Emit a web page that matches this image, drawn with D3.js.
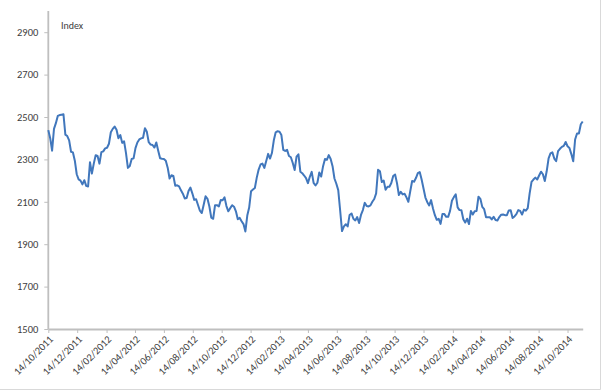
<!DOCTYPE html>
<html>
<head>
<meta charset="utf-8">
<script src="https://cdn.jsdelivr.net/npm/d3@7"></script>
<style>
  html, body { margin: 0; padding: 0; background: #fff; }
  svg { display: block; }
  text { font-family: Carlito, Lato, "Open Sans", sans-serif; fill: #404040; }
</style>
</head>
<body>
<svg id="chart" width="602" height="392"></svg>
<script>
// ---- data ----
const startDate = "14/10/2011";
const endDate = "15/11/2014";
const stepDays = 4; // sampling interval of the series (calendar days)
const indexValues = [
  2438,2400,2341,2444,2471,2505,2509,2511,2513,2417,2410,2390,2336,2333,2294,2230,2206,2200,2182,2202,
  2175,2172,2287,2233,2280,2320,2316,2280,2334,2338,2352,2355,2374,2428,2444,2455,2440,2400,2415,2378,
  2385,2330,2260,2269,2302,2305,2353,2380,2394,2399,2402,2447,2430,2381,2370,2368,2356,2380,2341,2305,
  2303,2302,2294,2261,2210,2225,2222,2176,2178,2173,2154,2138,2116,2118,2151,2167,2140,2109,2112,2085,
  2058,2047,2086,2126,2114,2078,2025,2020,2084,2084,2078,2108,2107,2121,2080,2055,2070,2084,2077,2055,
  2018,2024,2008,1995,1960,2035,2073,2150,2158,2165,2214,2252,2276,2280,2260,2292,2326,2304,2330,2390,
  2428,2433,2431,2415,2345,2340,2345,2316,2310,2283,2250,2313,2324,2242,2235,2224,2212,2188,2218,2241,
  2189,2177,2190,2238,2219,2268,2302,2298,2320,2302,2268,2210,2185,2155,2060,1962,1984,1994,1984,2038,
  2045,2020,2012,2028,2000,2038,2061,2095,2080,2078,2083,2100,2113,2140,2251,2244,2193,2200,2157,2171,
  2171,2189,2222,2229,2188,2132,2147,2135,2138,2121,2100,2150,2198,2195,2212,2235,2240,2205,2163,2120,
  2098,2083,2108,2068,2037,2015,2020,1996,2043,2042,2029,2029,2057,2105,2122,2135,2074,2061,2060,2018,
  2002,2020,1995,2057,2040,2055,2057,2124,2114,2076,2065,2027,2027,2027,2017,2029,2014,2012,2028,2039,
  2040,2037,2037,2059,2060,2024,2031,2042,2061,2057,2040,2063,2058,2070,2140,2194,2205,2214,2205,2224,
  2242,2230,2198,2244,2305,2328,2333,2304,2292,2339,2350,2359,2364,2382,2362,2354,2325,2291,2394,2422,
  2422,2466,2479
];
const xTickLabels = [
  "14/10/2011","14/12/2011","14/02/2012","14/04/2012","14/06/2012","14/08/2012","14/10/2012",
  "14/12/2012","14/02/2013","14/04/2013","14/06/2013","14/08/2013","14/10/2013","14/12/2013",
  "14/02/2014","14/04/2014","14/06/2014","14/08/2014","14/10/2014"
];
const yTicks = [1500,1700,1900,2100,2300,2500,2700,2900];
const yDomain = [1500, 3000];
const yTitle = "Index";

// ---- build ----
(function () {
  const parse = d3.timeParse("%d/%m/%Y");
  const t0 = parse(startDate);
  const series = indexValues.map((v, i) => ({ date: d3.timeDay.offset(t0, i * stepDays), value: v }));

  const svg = d3.select("#chart");
  const W = 602, H = 392;
  const mLeft = 48.3, mRight = 582.7, mTop = 11, mBottom = 329;

  const x = d3.scaleTime().domain([t0, parse(endDate)]).range([mLeft, mRight]);
  const y = d3.scaleLinear().domain(yDomain).range([mBottom, mTop]);

  // light outer frame (right / bottom edges)
  svg.append("path")
    .attr("d", `M${W - 1.5},0 V${H - 2.5} H0`)
    .attr("fill", "none").attr("stroke", "#D9D9D9").attr("stroke-width", 1);

  // y axis
  const yAxis = svg.append("g")
    .attr("transform", `translate(${mLeft},0)`)
    .call(d3.axisLeft(y).tickValues(yTicks).tickFormat(d3.format("d"))
      .tickSize(4).tickPadding(6).tickSizeOuter(0));
  yAxis.select(".domain").attr("stroke", "#BFBFBF").attr("stroke-width", 1.8)
    .attr("d", `M0,${mTop}V${mBottom}`);
  yAxis.selectAll(".tick line").attr("stroke", "#BFBFBF").attr("stroke-width", 1);
  yAxis.selectAll(".tick text").attr("font-size", "10.5px").attr("fill", "#404040")
    .style("font-family", "Carlito, Lato, sans-serif");

  // x axis
  const xTickDates = xTickLabels.map(parse);
  const xAxis = svg.append("g")
    .attr("transform", `translate(0,${mBottom})`)
    .call(d3.axisBottom(x).tickValues(xTickDates).tickSize(4).tickSizeOuter(0)
      .tickFormat(d3.timeFormat("%d/%m/%Y")));
  xAxis.select(".domain").attr("stroke", "#BFBFBF").attr("stroke-width", 1.8);
  xAxis.selectAll(".tick line").attr("stroke", "#BFBFBF").attr("stroke-width", 1);
  xAxis.selectAll(".tick text")
    .attr("font-size", "10.5px").attr("fill", "#404040")
    .style("font-family", "Carlito, Lato, sans-serif")
    .attr("text-anchor", "end")
    .attr("y", 0).attr("dy", 0)
    .attr("transform", "translate(5,11) rotate(-45)");

  // line
  const line = d3.line().x(d => x(d.date)).y(d => y(d.value));
  svg.append("path")
    .datum(series)
    .attr("d", line)
    .attr("fill", "none")
    .attr("stroke", "#4177BC")
    .attr("stroke-width", 2)
    .attr("stroke-linejoin", "round");

  // axis title
  svg.append("text")
    .attr("x", 61).attr("y", 29)
    .attr("font-size", "10px")
    .text(yTitle);
})();
</script>
</body>
</html>
